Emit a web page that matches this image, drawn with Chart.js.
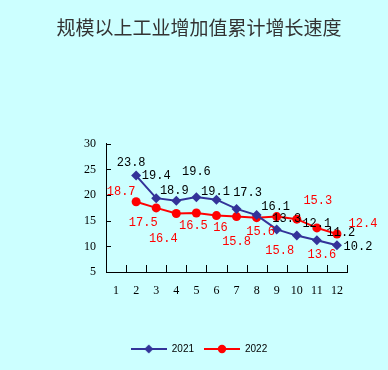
<!DOCTYPE html>
<html>
<head>
<meta charset="utf-8">
<script src="https://cdn.jsdelivr.net/npm/chart.js@4/dist/chart.umd.min.js"></script>
<style>
  html, body { margin: 0; padding: 0; background: #ccffff; }
  #wrap { width: 388px; height: 370px; }
</style>
</head>
<body>
<div id="wrap"><canvas id="myChart" width="388" height="370"></canvas></div>
<script>
// months
var months = ['1', '2', '3', '4', '5', '6', '7', '8', '9', '10', '11', '12'];
// cumulative growth, %
var growth2021 = [null, 23.8, 19.4, 18.9, 19.6, 19.1, 17.3, 16.1, 13.3, 12.1, 11.2, 10.2];
var growth2022 = [null, 18.7, 17.5, 16.4, 16.5, 16, 15.8, 15.6, 15.8, 15.3, 13.6, 12.4];
var yTicks = [5, 10, 15, 20, 25, 30];

var blue = '#333399';
var red = '#ff0000';

// where each value label sits relative to its point (dx, dy)
var off2021 = [null, [-5, -13], [0, -22], [-2, -10], [0, -25], [-1, -8], [11, -16], [19, -8], [10, -11], [20, -12], [24, -7], [21, 1]];
var off2022 = [null, [-15, -10], [-13, 15], [-13, 25], [-3, 13], [4, 12], [0, 25], [4, 14], [3, 34], [21, -18], [5, 27], [26, -10]];

// little line+marker pictures for the legend
function legendIcon(color, style) {
  var c = document.createElement('canvas');
  c.width = 36; c.height = 10;
  var g = c.getContext('2d');
  g.strokeStyle = color;
  g.lineWidth = 2;
  g.beginPath(); g.moveTo(0, 5); g.lineTo(36, 5); g.stroke();
  g.fillStyle = color;
  g.beginPath();
  if (style == 'diamond') {
    g.moveTo(18, 0.5); g.lineTo(22.5, 5); g.lineTo(18, 9.5); g.lineTo(13.5, 5);
  } else {
    g.arc(18, 5, 4.2, 0, Math.PI * 2);
  }
  g.closePath(); g.fill();
  return c;
}
var icon2021 = legendIcon(blue, 'diamond');
var icon2022 = legendIcon(red, 'circle');

var extras = {
  id: 'extras',
  afterDatasetsDraw: function(chart) {
    var ctx = chart.ctx;
    var x = chart.scales.x, y = chart.scales.y;
    var a = chart.chartArea;
    ctx.save();
    // inward tick marks
    ctx.strokeStyle = '#000';
    ctx.lineWidth = 1;
    ctx.beginPath();
    yTicks.forEach(function(v) {
      var py = Math.round(y.getPixelForValue(v)) + 0.5;
      ctx.moveTo(a.left, py); ctx.lineTo(a.left + 5, py);
    });
    var step = (a.right - a.left) / months.length;
    for (var i = 0; i <= months.length; i++) {
      var px = Math.round(a.left + i * step) + 0.5;
      ctx.moveTo(px, a.bottom); ctx.lineTo(px, a.bottom - 7);
    }
    ctx.stroke();

    // value labels
    ctx.font = '12px "Liberation Mono", monospace';
    ctx.textAlign = 'center';
    ctx.textBaseline = 'middle';
    [[0, off2021, '#000'], [1, off2022, red]].forEach(function(s) {
      var meta = chart.getDatasetMeta(s[0]);
      var vals = chart.data.datasets[s[0]].data;
      ctx.fillStyle = s[2];
      meta.data.forEach(function(pt, i) {
        if (vals[i] == null) return;
        ctx.fillText(String(vals[i]), pt.x + s[1][i][0], pt.y + s[1][i][1]);
      });
    });
    ctx.restore();
  }
};

var ctx = document.getElementById('myChart').getContext('2d');
var myChart = new Chart(ctx, {
  type: 'line',
  data: {
    labels: months,
    datasets: [{
      label: '2021',
      data: growth2021,
      borderColor: blue,
      backgroundColor: blue,
      borderWidth: 2,
      pointStyle: 'rectRot',
      pointRadius: 5,
      pointBorderWidth: 0
    }, {
      label: '2022',
      data: growth2022,
      borderColor: red,
      backgroundColor: red,
      borderWidth: 2,
      pointStyle: 'circle',
      pointRadius: 4.5,
      pointBorderWidth: 0
    }]
  },
  options: {
    responsive: false,
    animation: false,
    layout: { padding: { left: 51, right: 41, top: 0, bottom: 6 } },
    plugins: {
      title: {
        display: true,
        text: '规模以上工业增加值累计增长速度',
        color: '#333333',
        font: { family: '"Noto Sans CJK SC"', size: 19, weight: 'normal' },
        padding: { top: 16, bottom: 105 }
      },
      legend: {
        position: 'bottom',
        labels: {
          usePointStyle: true,
          pointStyleWidth: 36,
          color: '#000',
          font: { family: '"Liberation Sans"', size: 10 },
          padding: 10,
          generateLabels: function(chart) {
            var items = Chart.defaults.plugins.legend.labels.generateLabels(chart);
            items[0].pointStyle = icon2021;
            items[1].pointStyle = icon2022;
            return items;
          }
        }
      },
      tooltip: { enabled: false }
    },
    scales: {
      x: {
        offset: true,
        grid: { display: false, drawTicks: false },
        border: { display: true, color: '#000', width: 1 },
        ticks: {
          color: '#000',
          padding: 12,
          maxRotation: 0,
          font: { family: '"Liberation Serif"', size: 12 }
        },
        afterFit: function(s) { s.height = 62; }
      },
      y: {
        min: 5,
        max: 30,
        grid: { display: false, drawTicks: false },
        border: { display: true, color: '#000', width: 1 },
        afterBuildTicks: function(s) {
          s.ticks = yTicks.map(function(v) { return { value: v }; });
        },
        ticks: {
          color: '#000',
          padding: 10,
          font: { family: '"Liberation Serif"', size: 12 }
        },
        afterFit: function(s) { s.width = 55; }
      }
    }
  },
  plugins: [extras]
});
</script>
</body>
</html>
